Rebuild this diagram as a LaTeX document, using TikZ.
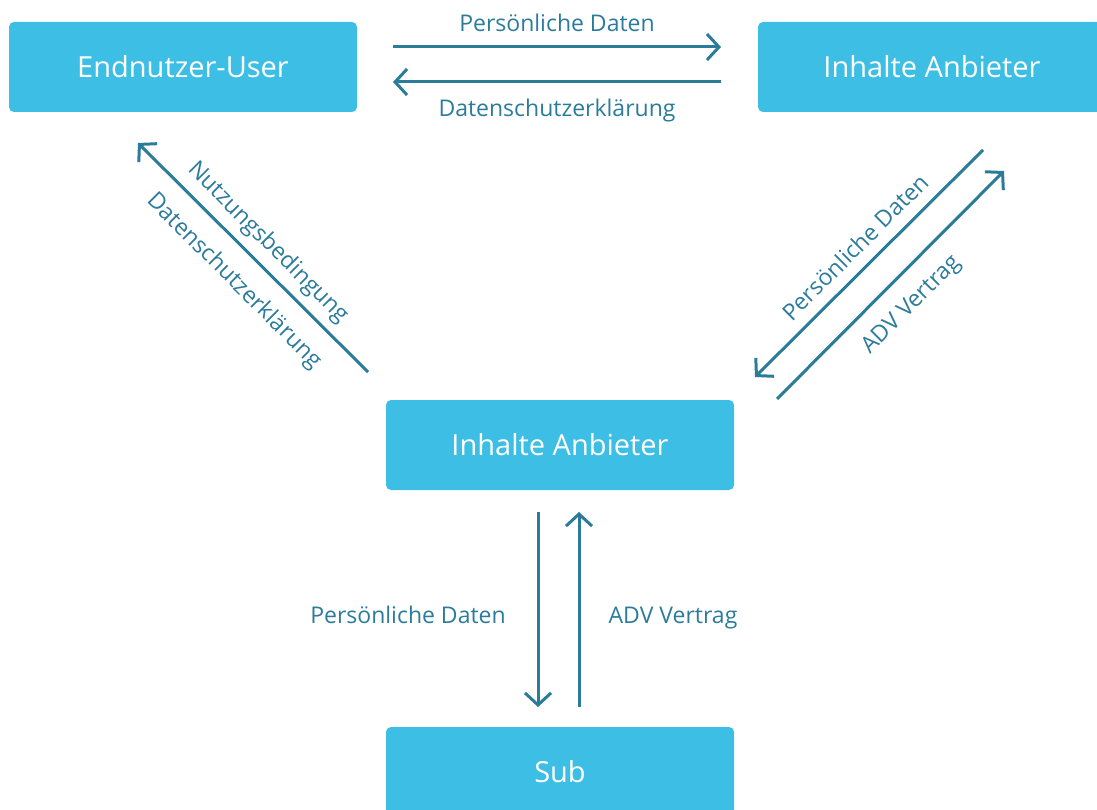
\documentclass[tikz,border=0pt]{standalone}
\usepackage{fontspec}
\setmainfont{Open Sans}
\usetikzlibrary{arrows.meta}
\usepackage{xcolor}
\definecolor{boxblue}{HTML}{3DBEE4}
\definecolor{flowblue}{HTML}{2B7B9B}

\begin{document}
\begin{tikzpicture}[
    x=1pt, y=-1pt,
    box/.style={fill=boxblue,rounded corners=5pt,minimum width=348pt,minimum height=90pt,
        inner sep=0pt,text=white,font=\fontsize{29}{32}\selectfont},
    flow/.style={draw=flowblue,line width=3pt,
        -{Straight Barb[length=12pt,width=26pt,line width=3pt]}},
    lbl/.style={text=flowblue,inner sep=0pt,font=\fontsize{23}{26}\selectfont}
]
\useasboundingbox (0,0) rectangle (1097,810);
\clip (0,0) rectangle (1097,810);

% Boxes
\node[box] (user) at (183,67) {Endnutzer-User};
\node[box] (anbieter) at (932,67) {Inhalte Anbieter};
\node[box] (mitte) at (560,445) {Inhalte Anbieter};
\node[box] (sub) at (560,772) {Sub};

% Arrow ends
\coordinate (ua) at (393,47);
\coordinate (ub) at (721,47);
\coordinate (uc) at (721,82);
\coordinate (ud) at (393,82);
\coordinate (la) at (368,372);
\coordinate (lb) at (138,143);
\coordinate (ra) at (983,150);
\coordinate (rb) at (755,377);
\coordinate (rc) at (777,399);
\coordinate (rd) at (1004,171);
\coordinate (va) at (538,512);
\coordinate (vb) at (538,707);
\coordinate (vc) at (579,707);
\coordinate (vd) at (579,512);

% Top row
\draw[flow] (ua) -- (ub);
\draw[flow] (uc) -- (ud);
\node[lbl,anchor=base] (t1) at (557,32) {Persönliche Daten};
\node[lbl,anchor=base] (t2) at (557,117) {Datenschutzerklärung};

% Left diagonal
\draw[flow] (la) -- (lb);
\node[lbl,rotate=-45] (l1) at (268,243) {Nutzungsbedingung};
\node[lbl,rotate=-45] (l2) at (234,281) {Datenschutzerklärung};

% Right diagonal
\draw[flow] (ra) -- (rb);
\draw[flow] (rc) -- (rd);
\node[lbl,rotate=45] (r1) at (855,247) {Persönliche Daten};
\node[lbl,rotate=45] (r2) at (912,305) {ADV Vertrag};

% Vertical
\draw[flow] (va) -- (vb);
\draw[flow] (vc) -- (vd);
\node[lbl,anchor=base] (v1) at (408,623) {Persönliche Daten};
\node[lbl,anchor=base] (v2) at (673,623) {ADV Vertrag};

\end{tikzpicture}
\end{document}
